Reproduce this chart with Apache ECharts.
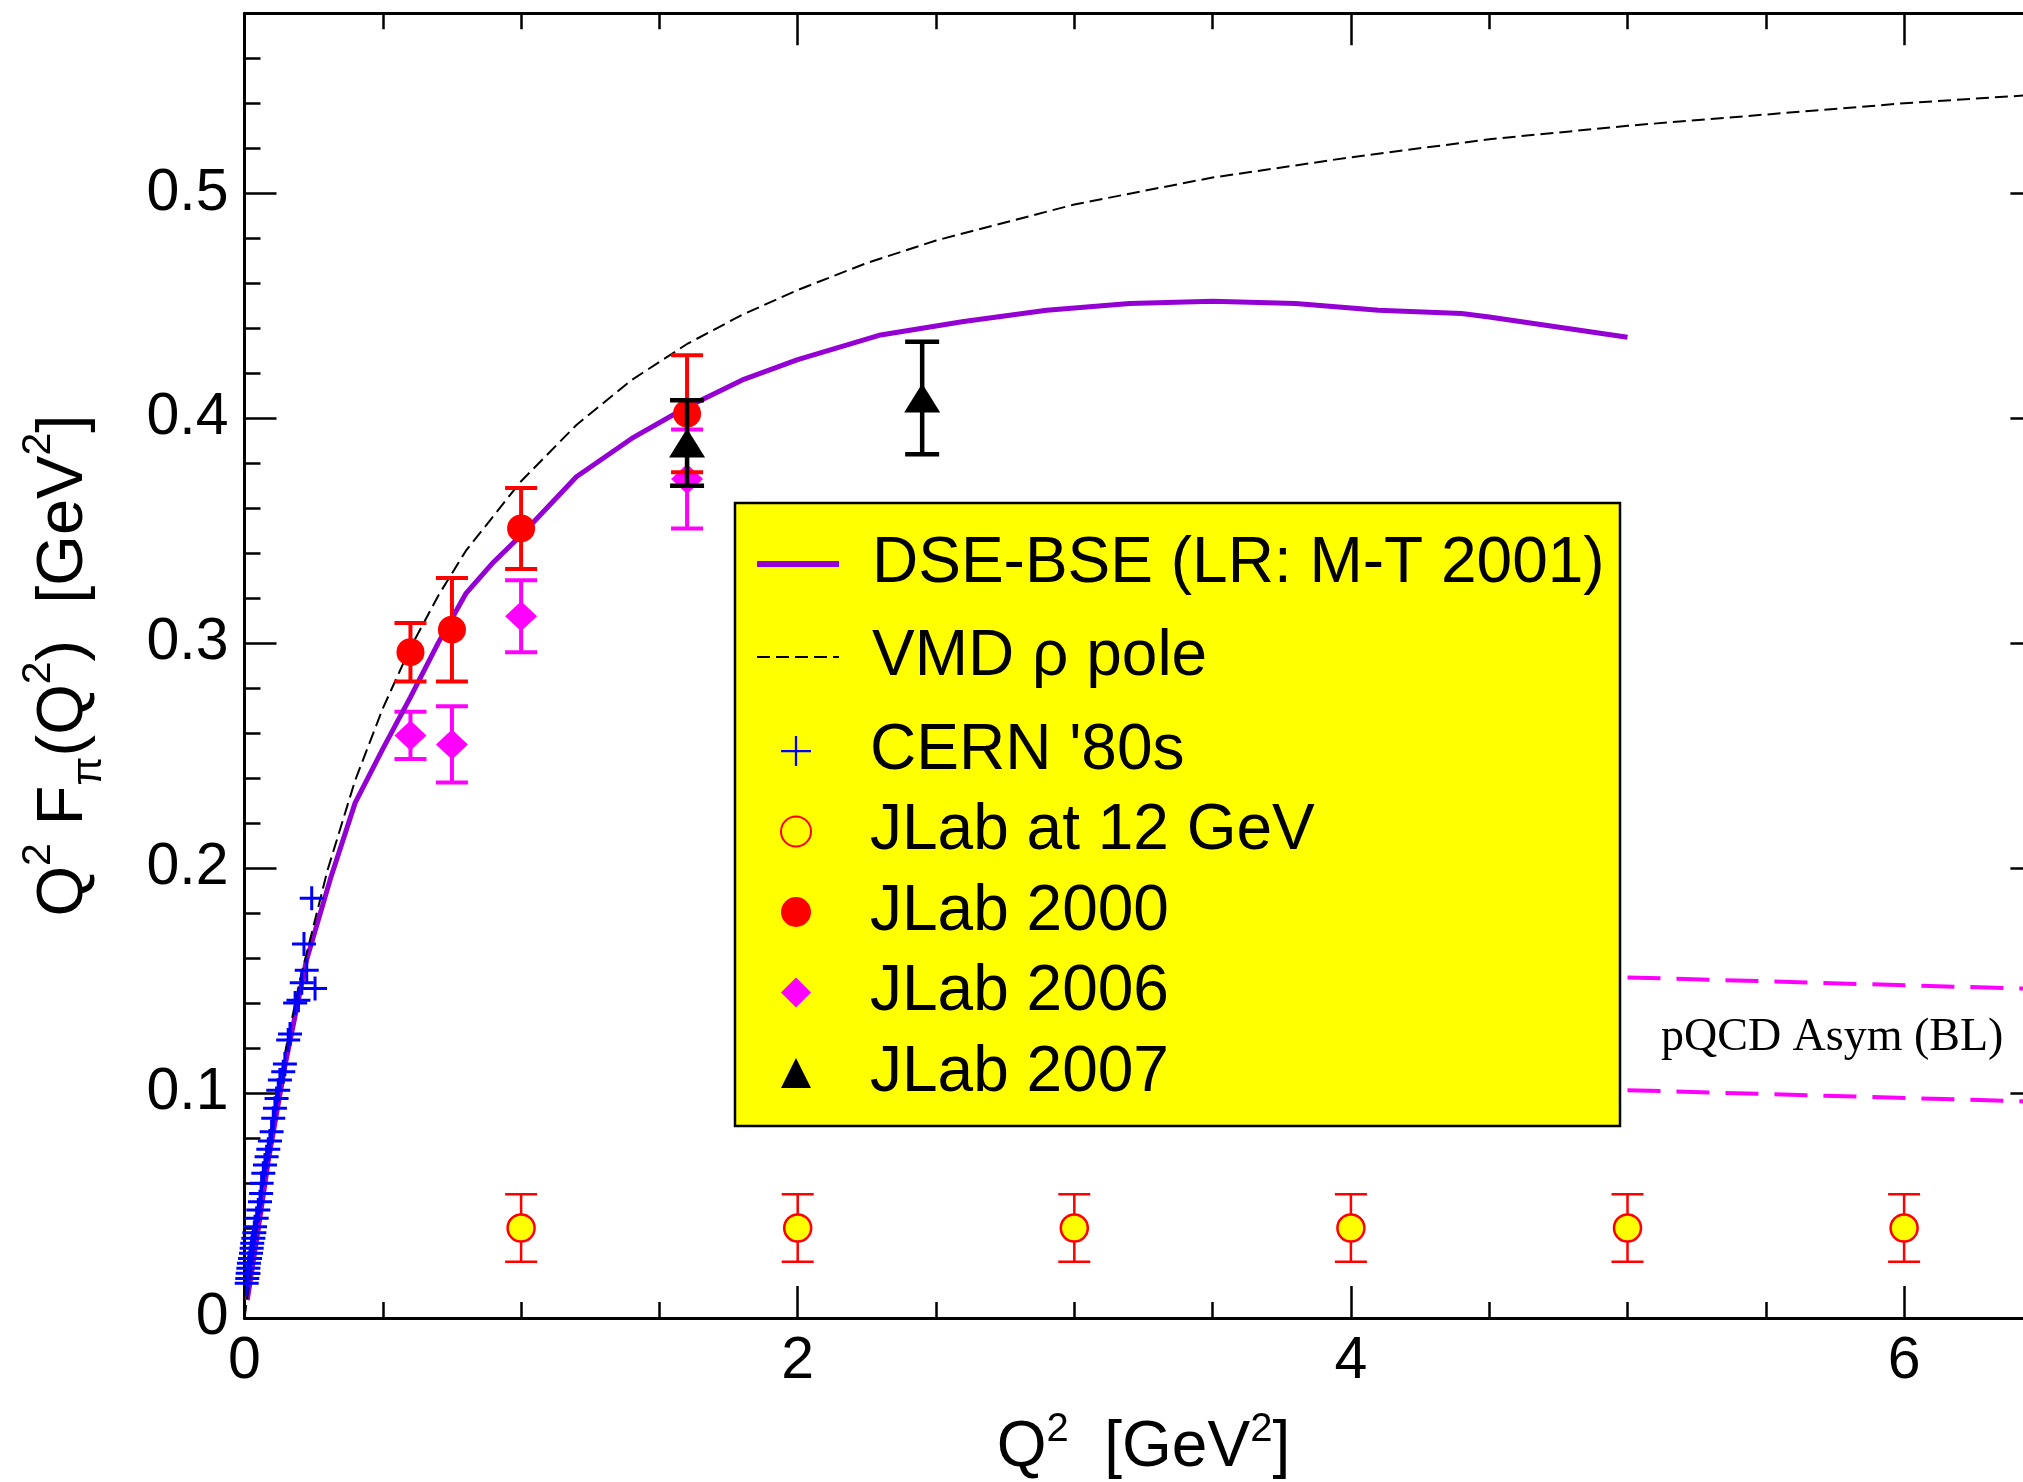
<!DOCTYPE html>
<html>
<head>
<meta charset="utf-8">
<title>pion form factor</title>
<script src="https://cdn.jsdelivr.net/npm/echarts@6/dist/echarts.min.js"></script>
<style>
  html, body { margin: 0; padding: 0; background: #fff; }
  #main { width: 2023px; height: 1482px; }
</style>
</head>
<body>
<div id="main"></div>
<script>
// DSE-BSE curve (Q2, Q2 F)
var dseQ2 = [0.01, 0.05, 0.086, 0.146, 0.224, 0.31, 0.40, 0.50, 0.60, 0.70, 0.80, 0.90, 1.0, 1.2, 1.4, 1.6, 1.8, 2.0, 2.3, 2.6, 2.9, 3.2, 3.5, 3.8, 4.1, 4.4, 4.5, 5.0];
var dseVal = [0.008, 0.040, 0.070, 0.112, 0.159, 0.195, 0.229, 0.253, 0.276, 0.300, 0.322, 0.336, 0.348, 0.374, 0.391, 0.405, 0.417, 0.426, 0.437, 0.443, 0.448, 0.451, 0.452, 0.451, 0.448, 0.4465, 0.445, 0.436];

// VMD rho pole (dashed)
var vmdQ2 = [0, 0.05, 0.1, 0.15, 0.2, 0.3, 0.4, 0.5, 0.6, 0.7, 0.8, 1.0, 1.2, 1.4, 1.6, 1.8, 2.0, 2.25, 2.5, 2.75, 3.0, 3.5, 4.0, 4.5, 5.0, 5.5, 6.0, 6.5];
var vmdVal = [0, 0.046, 0.086, 0.120, 0.150, 0.199, 0.239, 0.271, 0.298, 0.321, 0.341, 0.372, 0.397, 0.417, 0.433, 0.446, 0.457, 0.469, 0.479, 0.487, 0.495, 0.507, 0.516, 0.524, 0.530, 0.535, 0.540, 0.544];

// pQCD asymptotic band edges
var pqcdQ2 = [5.0, 6.5];
var pqcdUpper = [0.1514, 0.1462];
var pqcdLower = [0.1013, 0.0961];

// CERN '80s
var cernQ2 = [0.243, 0.215, 0.225, 0.255, 0.207, 0.195, 0.183, 0.1645, 0.158, 0.146, 0.140, 0.128, 0.122, 0.116, 0.110, 0.104, 0.098, 0.092, 0.086, 0.080, 0.074, 0.068, 0.062, 0.060, 0.056, 0.050, 0.044, 0.038, 0.0355, 0.032, 0.028, 0.026, 0.0235, 0.020, 0.016, 0.014, 0.0115, 0.010, 0.008];
var cernVal = [0.1866, 0.1663, 0.1546, 0.1465, 0.149, 0.1413, 0.140, 0.1262, 0.1236, 0.1129, 0.1095, 0.1058, 0.1013, 0.0976, 0.0932, 0.0888, 0.0828, 0.0787, 0.075, 0.0717, 0.068, 0.0643, 0.0599, 0.0554, 0.0517, 0.048, 0.0443, 0.0406, 0.0379, 0.0354, 0.0332, 0.031, 0.0288, 0.0265, 0.0243, 0.0221, 0.0199, 0.0176, 0.0154];

// JLab at 12 GeV (projected)
var j12Q2 = [1, 2, 3, 4, 5, 6];
var j12Val = [0.040, 0.040, 0.040, 0.040, 0.040, 0.040];
var j12Err = [0.015, 0.015, 0.015, 0.015, 0.015, 0.015];

// JLab 2000
var j00Q2 = [0.60, 0.75, 1.00, 1.60];
var j00Val = [0.296, 0.306, 0.351, 0.402];
var j00Err = [0.013, 0.023, 0.018, 0.026];

// JLab 2006
var j06Q2 = [0.60, 0.75, 1.00, 1.60];
var j06Val = [0.259, 0.255, 0.312, 0.373];
var j06Err = [0.0105, 0.017, 0.016, 0.022];

// JLab 2007
var j07Q2 = [1.60, 2.45];
var j07Val = [0.389, 0.409];
var j07Err = [0.019, 0.025];

var font = "'Liberation Sans', Arial, Helvetica, sans-serif";
var serif = "'Liberation Serif', 'Times New Roman', serif";
var plusPath = 'path://M-1,-8H1V-1H8V1H1V8H-1V1H-8V-1H-1Z';
var thinPlusPath = 'path://M-0.6,-8H0.6V-0.6H8V0.6H0.6V8H-0.6V0.6H-8V-0.6H-0.6Z';

function pairs(xs, ys) {
	var out = [];
	for (var i = 0; i < xs.length; i++) out.push([xs[i], ys[i]]);
	return out;
}
function triples(xs, ys, es) {
	var out = [];
	for (var i = 0; i < xs.length; i++) out.push([xs[i], ys[i], es[i]]);
	return out;
}

// vertical error bar with caps
function errBar(color, width, cap) {
	return function(params, api) {
		var x = api.value(0), y = api.value(1), e = api.value(2);
		var top = api.coord([x, y + e]);
		var bot = api.coord([x, y - e]);
		var st = { stroke: color, lineWidth: width };
		return {
			type: 'group',
			children: [
				{ type: 'line', shape: { x1: top[0], y1: top[1], x2: bot[0], y2: bot[1] }, style: st },
				{ type: 'line', shape: { x1: top[0] - cap / 2, y1: top[1], x2: top[0] + cap / 2, y2: top[1] }, style: st },
				{ type: 'line', shape: { x1: bot[0] - cap / 2, y1: bot[1], x2: bot[0] + cap / 2, y2: bot[1] }, style: st }
			]
		};
	};
}

function xAxisDef(pos, interval, len, major) {
	return {
		type: 'value', position: pos, min: 0, max: 6.5, interval: interval,
		axisLine: { show: major, onZero: false, lineStyle: { color: '#000', width: 3 } },
		axisTick: { show: true, inside: true, length: len, lineStyle: { color: '#000', width: 2.5 } },
		axisLabel: { show: false },
		splitLine: { show: false }
	};
}
function yAxisDef(pos, interval, len, major) {
	return {
		type: 'value', position: pos, min: 0, max: 0.58, interval: interval,
		axisLine: { show: major, onZero: false, lineStyle: { color: '#000', width: 3 } },
		axisTick: { show: true, inside: true, length: len, lineStyle: { color: '#000', width: 2.5 } },
		axisLabel: { show: false },
		splitLine: { show: false }
	};
}

var xMain = xAxisDef('bottom', 2, 32, true);
xMain.axisLabel = { show: true, showMaxLabel: false, fontSize: 59, color: '#000', fontFamily: font, margin: 14 };
xMain.name = '{n|Q}{s|2}{n|  [GeV}{s|2}{n|]}';
xMain.nameLocation = 'middle';
xMain.nameGap = 92;
xMain.nameTextStyle = {
	fontFamily: font, color: '#000',
	rich: {
		n: { fontSize: 64, lineHeight: 76, fontFamily: font, color: '#000' },
		s: { fontSize: 40, lineHeight: 10, verticalAlign: 'top', fontFamily: font, color: '#000' }
	}
};

var yMain = yAxisDef('left', 0.1, 32, true);
yMain.axisLabel = { show: true, showMaxLabel: false, fontSize: 59, color: '#000', fontFamily: font, margin: 16 };
yMain.name = '{n|Q}{s|2}{n| F}{b|\u03c0}{n|(Q}{s|2}{n|)  [GeV}{s|2}{n|]}';
yMain.nameLocation = 'middle';
yMain.nameGap = 134;
yMain.nameTextStyle = {
	fontFamily: font, color: '#000',
	rich: {
		n: { fontSize: 65, lineHeight: 92, fontFamily: font, color: '#000' },
		s: { fontSize: 41, lineHeight: 10, verticalAlign: 'top', fontFamily: font, color: '#000' },
		b: { fontSize: 42, lineHeight: 10, verticalAlign: 'bottom', fontFamily: font, color: '#000' }
	}
};

var chart = echarts.init(document.getElementById('main'));
chart.setOption({
	animation: false,
	backgroundColor: '#fff',
	grid: { left: 244.5, top: 13.3, width: 1797.9, height: 1304.7, containLabel: false, outerBoundsMode: 'none' },
	xAxis: [xMain, xAxisDef('bottom', 0.5, 16, false), xAxisDef('top', 2, 32, true), xAxisDef('top', 0.5, 16, false)],
	yAxis: [yMain, yAxisDef('left', 0.02, 16, false), yAxisDef('right', 0.1, 32, true), yAxisDef('right', 0.02, 16, false)],
	graphic: [
		{
			type: 'rect', z: 3,
			shape: { x: 735, y: 503, width: 885, height: 623 },
			style: { fill: '#ffff00', stroke: '#000', lineWidth: 2.5 }
		},
		{
			type: 'text', z: 3, left: 1661, top: 1015,
			style: { text: 'pQCD Asym (BL)', font: '46px ' + serif, fill: '#000' }
		}
	],
	legend: [
		{
			orient: 'vertical', left: 754, top: 532, padding: 0, z: 5,
			itemWidth: 82, itemHeight: 30, itemGap: 29, selectedMode: false,
			itemStyle: { opacity: 0 },
			textStyle: { fontSize: 64, lineHeight: 60, color: '#000', fontFamily: font, padding: [0, 0, 0, 28] },
			data: [
				{ name: 'DSE-BSE (LR: M-T 2001)', lineStyle: { width: 6, color: '#9400d3' } },
				{ name: 'VMD \u03c1 pole', lineStyle: { width: 2, color: '#000', type: [13, 6] } }
			]
		},
		{
			orient: 'vertical', left: 780, top: 719, padding: 0, z: 5,
			itemWidth: 30, itemHeight: 30, itemGap: 16.5, selectedMode: false,
			textStyle: { fontSize: 64, lineHeight: 60, color: '#000', fontFamily: font, padding: [0, 0, 0, 54] },
			data: [
				{ name: "CERN '80s", icon: thinPlusPath },
				'JLab at 12 GeV', 'JLab 2000', 'JLab 2006', 'JLab 2007'
			]
		}
	],
	series: [
		{
			name: 'DSE-BSE (LR: M-T 2001)', type: 'line', symbol: 'none', showSymbol: false,
			data: pairs(dseQ2, dseVal),
			lineStyle: { color: '#9400d3', width: 5 }, itemStyle: { color: '#9400d3' }
		},
		{
			name: 'VMD \u03c1 pole', type: 'line', symbol: 'none', showSymbol: false,
			data: pairs(vmdQ2, vmdVal),
			lineStyle: { color: '#000', width: 2, type: [13, 6] }, itemStyle: { color: '#000' }
		},
		{
			name: 'pQCD upper', type: 'line', symbol: 'none', data: pairs(pqcdQ2, pqcdUpper),
			lineStyle: { color: '#ff00ff', width: 4, type: [33, 16] }
		},
		{
			name: 'pQCD lower', type: 'line', symbol: 'none', data: pairs(pqcdQ2, pqcdLower),
			lineStyle: { color: '#ff00ff', width: 4, type: [33, 16] }
		},
		{
			name: "CERN '80s", type: 'scatter', symbol: plusPath, symbolSize: 24, z: 3,
			data: pairs(cernQ2, cernVal), itemStyle: { color: '#0000ff', opacity: 1 }
		},
		{
			name: 'err12', type: 'custom', z: 3, renderItem: errBar('#ff0000', 2.5, 32),
			data: triples(j12Q2, j12Val, j12Err)
		},
		{
			name: 'JLab at 12 GeV', type: 'scatter', symbol: 'circle', symbolSize: 27, z: 4,
			data: pairs(j12Q2, j12Val),
			itemStyle: { color: '#ffff00', borderColor: '#ff0000', borderWidth: 2.5, opacity: 1 }
		},
		{
			name: 'err06', type: 'custom', z: 3, renderItem: errBar('#ff00ff', 4, 32),
			data: triples(j06Q2, j06Val, j06Err)
		},
		{
			name: 'JLab 2006', type: 'scatter', symbol: 'diamond', symbolSize: [32, 30], z: 3,
			data: pairs(j06Q2, j06Val), itemStyle: { color: '#ff00ff', opacity: 1 }
		},
		{
			name: 'err00', type: 'custom', z: 4, renderItem: errBar('#ff0000', 4, 32),
			data: triples(j00Q2, j00Val, j00Err)
		},
		{
			name: 'JLab 2000', type: 'scatter', symbol: 'circle', symbolSize: 28, z: 4,
			data: pairs(j00Q2, j00Val), itemStyle: { color: '#ff0000', opacity: 1 }
		},
		{
			name: 'err07', type: 'custom', z: 5, renderItem: errBar('#000000', 4.5, 34),
			data: triples(j07Q2, j07Val, j07Err)
		},
		{
			name: 'JLab 2007', type: 'scatter', symbol: 'triangle', symbolSize: [36, 29], z: 5,
			data: pairs(j07Q2, j07Val), itemStyle: { color: '#000000', opacity: 1 }
		}
	]
});
</script>
</body>
</html>
